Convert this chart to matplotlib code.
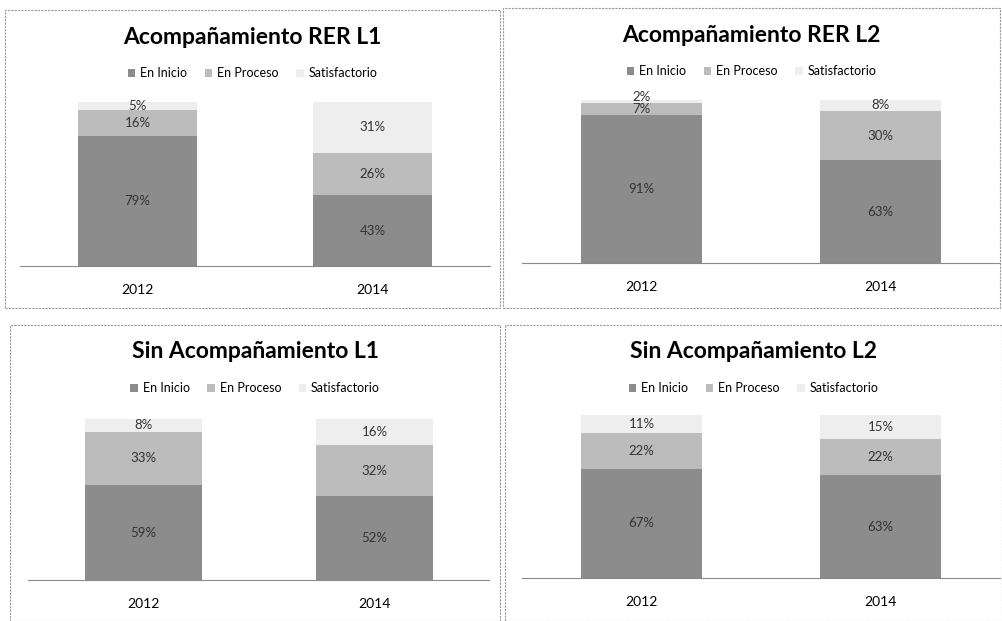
import matplotlib.pyplot as plt
from matplotlib.patches import Rectangle

years = ["2012", "2014"]
series = ["En Inicio", "En Proceso", "Satisfactorio"]

titles = ["Acompañamiento RER L1", "Acompañamiento RER L2",
          "Sin Acompañamiento L1", "Sin Acompañamiento L2"]

# values per panel: [2012, 2014]
rer_l1_inicio = [79, 43]
rer_l1_proceso = [16, 26]
rer_l1_satis = [5, 31]

rer_l2_inicio = [91, 63]
rer_l2_proceso = [7, 30]
rer_l2_satis = [2, 8]

sin_l1_inicio = [59, 52]
sin_l1_proceso = [33, 32]
sin_l1_satis = [8, 16]

sin_l2_inicio = [67, 63]
sin_l2_proceso = [22, 22]
sin_l2_satis = [11, 15]

panels = [
    (rer_l1_inicio, rer_l1_proceso, rer_l1_satis),
    (rer_l2_inicio, rer_l2_proceso, rer_l2_satis),
    (sin_l1_inicio, sin_l1_proceso, sin_l1_satis),
    (sin_l2_inicio, sin_l2_proceso, sin_l2_satis),
]

colors = ["#8c8c8c", "#bcbcbc", "#eeeeee"]

W, H = 1003, 621
fig = plt.figure(figsize=(W / 100, H / 100), dpi=100)
plt.rcParams['font.family'] = ['Lato', 'DejaVu Sans']


def frac(x0, y0, x1, y1):
    # pixel box (top-left origin) -> figure fraction
    return [x0 / W, 1 - y1 / H, (x1 - x0) / W, (y1 - y0) / H]


# panel boxes and axes boxes in pixels
boxes = [(5, 10, 500, 308), (503, 8, 1000, 308),
         (10, 325, 500, 621), (505, 325, 1002, 621)]
axboxes = [(20, 102, 490, 266), (522, 100, 1000, 263),
           (28, 419, 490, 580), (522, 415, 1000, 578)]

for i in range(4):
    bx = boxes[i]
    fig.add_artist(Rectangle((bx[0] / W, 1 - bx[3] / H), (bx[2] - bx[0]) / W,
                             (bx[3] - bx[1]) / H, transform=fig.transFigure,
                             fill=False, edgecolor="#9a9a9a", lw=0.8,
                             linestyle=(0, (2, 1))))
    ax = fig.add_axes(frac(*axboxes[i]))
    ini, pro, sat = panels[i]
    x = [0, 1]
    bottoms = [0, 0]
    for vals, c, name in zip([ini, pro, sat], colors, series):
        ax.bar(x, vals, 0.51, bottom=bottoms, color=c, label=name,
               edgecolor="none")
        for xi, v, b in zip(x, vals, bottoms):
            # tiny top segments: lift the label a little so it stays readable
            dy = 3 if v < 4 else 0
            ax.annotate(f"{v}%", (xi, b + v / 2), xytext=(0, dy),
                        textcoords="offset points", ha="center", va="center",
                        fontsize=9.5, color="#333333")
        bottoms = [b + v for b, v in zip(bottoms, vals)]
    ax.set_xlim(-0.5, 1.5)
    ax.set_ylim(0, 100)
    ax.set_yticks([])
    ax.set_xticks(x)
    ax.set_xticklabels(years, fontsize=10)
    ax.tick_params(axis="x", length=0, pad=13)
    for s in ["top", "left", "right"]:
        ax.spines[s].set_visible(False)
    ax.spines["bottom"].set_color("#8a8a8a")
    ax.spines["bottom"].set_linestyle((0, (3, 1)))

    cx = (bx[0] + bx[2]) / 2 / W
    ty = 1 - (bx[1] + 27) / H
    fig.text(cx, ty, titles[i], ha="center", va="center", fontsize=16.5,
             fontweight="bold")
    ly = 1 - (bx[1] + 63) / H
    fig.legend(*ax.get_legend_handles_labels(), loc="center",
               bbox_to_anchor=(cx, ly), ncol=3, frameon=False, fontsize=9,
               handlelength=0.6, handleheight=0.6, handletextpad=0.4,
               columnspacing=1.4)

fig.savefig("out.png", dpi=100)
